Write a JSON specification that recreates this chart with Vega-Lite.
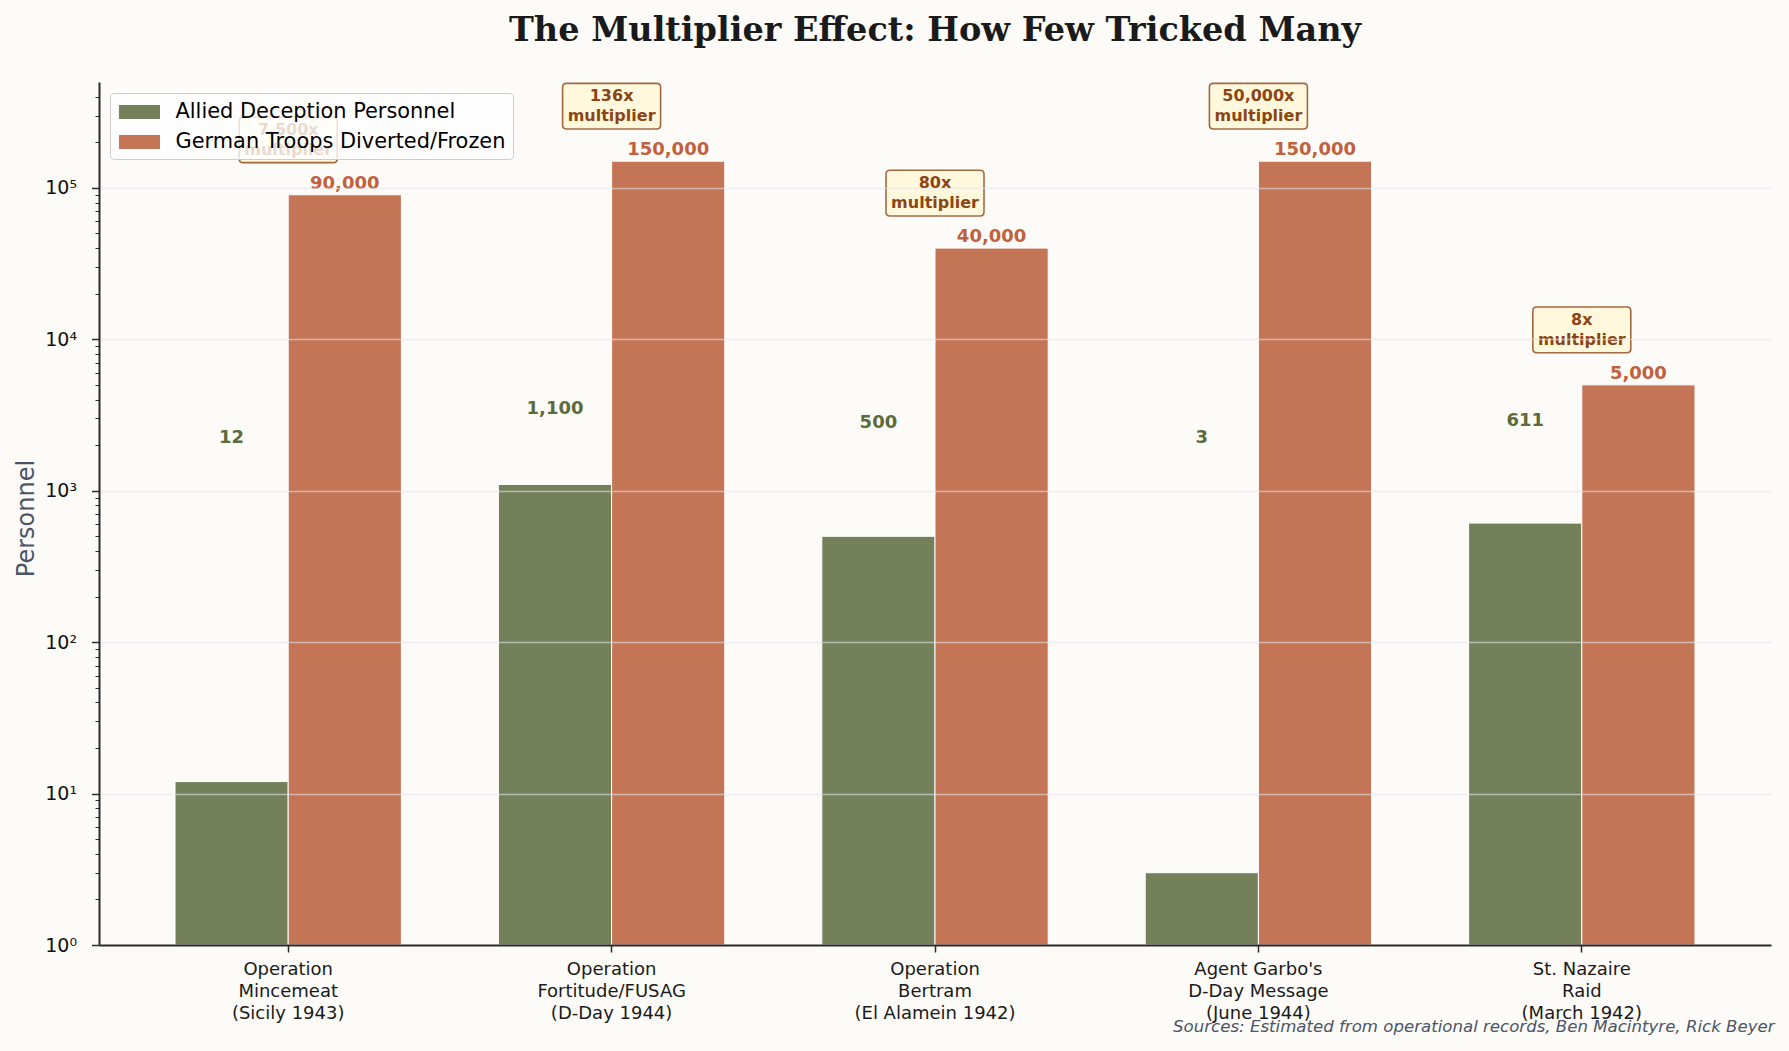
{
  "$schema": "https://vega.github.io/schema/vega-lite/v6.json",
  "width": 1672,
  "height": 863,
  "autosize": {"type": "none"},
  "padding": {"left": 99, "top": 82, "right": 18, "bottom": 106},
  "background": "#fcfbf7",
  "config": {"font": "DejaVu Sans", "view": {"stroke": null}},
  "title": {
    "text": "The Multiplier Effect: How Few Tricked Many",
    "font": "DejaVu Serif",
    "fontSize": 33.5,
    "fontWeight": "bold",
    "color": "#1a1a1a",
    "anchor": "middle",
    "frame": "group",
    "baseline": "middle",
    "offset": 16
  },
  "data": {
    "values": [
      {"operation": "Operation\nMincemeat\n(Sicily 1943)", "allied": 12, "german": 90000, "multiplier": "7,500x"},
      {"operation": "Operation\nFortitude/FUSAG\n(D-Day 1944)", "allied": 1100, "german": 150000, "multiplier": "136x"},
      {"operation": "Operation\nBertram\n(El Alamein 1942)", "allied": 500, "german": 40000, "multiplier": "80x"},
      {"operation": "Agent Garbo's\nD-Day Message\n(June 1944)", "allied": 3, "german": 150000, "multiplier": "50,000x"},
      {"operation": "St. Nazaire\nRaid\n(March 1942)", "allied": 611, "german": 5000, "multiplier": "8x"}
    ]
  },
  "layer": [
    {
      "transform": [{"fold": ["allied", "german"], "as": ["series", "personnel"]}],
      "mark": {"type": "bar", "stroke": "white", "strokeWidth": 1},
      "encoding": {
        "x": {
          "field": "operation",
          "type": "nominal",
          "sort": null,
          "scale": {"paddingInner": 0.3, "paddingOuter": 0.235},
          "axis": {
            "title": "Sources: Estimated from operational records, Ben Macintyre, Rick Beyer",
            "titleFontSize": 16.6,
            "titleFontStyle": "italic",
            "titleFontWeight": "normal",
            "titleColor": "#4a5568",
            "titleX": 1675,
            "titleY": 81,
            "titleAlign": "right",
            "titleBaseline": "middle",
            "labelExpr": "split(datum.label, '\\n')",
            "labelAngle": 0,
            "labelFontSize": 18,
            "labelLineHeight": 22.3,
            "labelColor": "#1a1a1a",
            "labelPadding": 8,
            "labelLimit": 400,
            "domainColor": "#2b2b2b",
            "domainWidth": 2,
            "tickColor": "#2b2b2b",
            "tickSize": 7,
            "tickWidth": 1.5,
            "grid": false,
            "zindex": 2
          }
        },
        "xOffset": {
          "field": "series",
          "type": "nominal",
          "scale": {"domain": ["allied", "german"], "paddingInner": 0, "paddingOuter": 0}
        },
        "y": {
          "field": "personnel",
          "type": "quantitative",
          "stack": null,
          "scale": {"type": "log", "domain": [1, 500000], "nice": false},
          "axis": {
            "orient": "left",
            "values": [1, 10, 100, 1000, 10000, 100000],
            "labelExpr": "'10' + ['⁰','¹','²','³','⁴','⁵'][round(log(datum.value) / LN10)]",
            "title": "Personnel",
            "titleFontSize": 24,
            "titleFontWeight": "normal",
            "titleColor": "#4a5568",
            "titleX": -73,
            "titleY": 436,
            "titleAngle": -90,
            "titleAlign": "center",
            "titleBaseline": "middle",
            "grid": true,
            "gridColor": "#e4e4ec",
            "gridOpacity": {"condition": {"test": "datum.value == 1", "value": 0}, "value": 0.6},
            "gridWidth": 1.3,
            "domainColor": "#2b2b2b",
            "domainWidth": 2,
            "tickColor": "#2b2b2b",
            "tickSize": 7.5,
            "tickWidth": 1.5,
            "labelFontSize": 19,
            "labelColor": "#111111",
            "labelPadding": 15,
            "zindex": 1
          }
        },
        "color": {
          "field": "series",
          "type": "nominal",
          "scale": {"domain": ["allied", "german"], "range": ["#748059", "#c47555"]},
          "legend": {
            "orient": "none",
            "legendX": 11,
            "legendY": 11,
            "title": null,
            "labelExpr": "datum.label == 'allied' ? 'Allied Deception Personnel' : 'German Troops Diverted/Frozen'",
            "symbolType": "M-1.71,-0.58H1.71V0.58H-1.71Z",
            "symbolSize": 576,
            "symbolStrokeWidth": 0,
            "symbolOffset": 10.5,
            "labelOffset": 24,
            "labelFontSize": 20.9,
            "labelLimit": 500,
            "labelColor": "#000000",
            "rowPadding": 8,
            "padding": 7,
            "fillColor": "rgba(255,255,255,0.8)",
            "strokeColor": "#cccccc",
            "cornerRadius": 4,
            "zindex": 2
          }
        }
      }
    },
    {
      "transform": [{"calculate": "datum.allied + 2000", "as": "allied_label_y"}],
      "mark": {"type": "text", "fontWeight": "bold", "fontSize": 18, "color": "#5b6b3c", "baseline": "alphabetic", "dy": -2, "xOffset": -56.6},
      "encoding": {
        "x": {"field": "operation", "type": "nominal", "sort": null},
        "y": {
          "field": "allied_label_y",
          "type": "quantitative",
          "scale": {"type": "log", "domain": [1, 500000], "nice": false},
          "axis": {
            "orient": "left",
            "values": [2, 3, 4, 5, 6, 7, 8, 9, 20, 30, 40, 50, 60, 70, 80, 90, 200, 300, 400, 500, 600, 700, 800, 900, 2000, 3000, 4000, 5000, 6000, 7000, 8000, 9000, 20000, 30000, 40000, 50000, 60000, 70000, 80000, 90000, 200000, 300000, 400000],
            "labels": false,
            "domain": false,
            "grid": false,
            "title": null,
            "tickColor": "#2b2b2b",
            "tickSize": 4,
            "tickWidth": 1,
            "zindex": 1
          }
        },
        "text": {"field": "allied", "type": "quantitative", "format": ",d"}
      }
    },
    {
      "mark": {"type": "text", "fontWeight": "bold", "fontSize": 18, "color": "#c0603c", "baseline": "alphabetic", "dy": -6, "xOffset": 56.6},
      "encoding": {
        "x": {"field": "operation", "type": "nominal", "sort": null},
        "y": {"field": "german", "type": "quantitative", "axis": null},
        "text": {"field": "german", "type": "quantitative", "format": ",d"}
      }
    },
    {
      "mark": {
        "type": "point",
        "shape": "M-0.92,-0.466L0.92,-0.466Q1,-0.466 1,-0.386L1,0.386Q1,0.466 0.92,0.466L-0.92,0.466Q-1,0.466 -1,0.386L-1,-0.386Q-1,-0.466 -0.92,-0.466Z",
        "size": 9604,
        "filled": true,
        "fill": "#fff8dc",
        "stroke": "#a26940",
        "strokeWidth": 1.6,
        "opacity": 1,
        "yOffset": -55
      },
      "encoding": {
        "x": {"field": "operation", "type": "nominal", "sort": null},
        "y": {"field": "german", "type": "quantitative", "axis": null}
      }
    },
    {
      "transform": [{"calculate": "datum.multiplier + '\\nmultiplier'", "as": "box_text"}],
      "mark": {"type": "text", "fontWeight": "bold", "fontSize": 16, "color": "#8b4513", "baseline": "middle", "lineBreak": "\n", "lineHeight": 20.3, "dy": -65},
      "encoding": {
        "x": {"field": "operation", "type": "nominal", "sort": null},
        "y": {"field": "german", "type": "quantitative", "axis": null},
        "text": {"field": "box_text", "type": "nominal"}
      }
    }
  ],
  "resolve": {"axis": {"y": "independent"}}
}
